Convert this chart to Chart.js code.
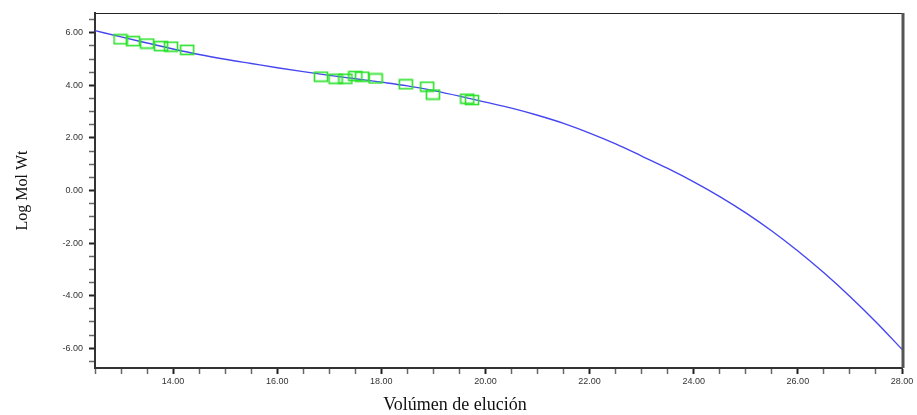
<!DOCTYPE html>
<html>
<head>
<meta charset="utf-8">
<script src="https://cdn.jsdelivr.net/npm/chart.js@4.4.1/dist/chart.umd.min.js"></script>
<style>
  html, body { margin: 0; padding: 0; background: #fff; }
  #wrap { width: 917px; height: 415px; }
</style>
</head>
<body>
<div id="wrap"><canvas id="calibChart" width="917" height="415"></canvas></div>
<script>
// Curva de calibración (volumen de elución vs Log Mol Wt)
const curveVolume = [12.5, 13.0, 13.5, 14.0, 14.5, 15.0, 15.5, 16.0, 16.5, 17.0, 17.5, 18.0,
    18.5, 19.0, 19.5, 20.0, 20.5, 21.0, 21.5, 22.0, 22.5, 23.0, 23.5, 24.0, 24.5, 25.0,
    25.5, 26.0, 26.5, 27.0, 27.5, 28.0];
const curveLogMw = [6.08, 5.84, 5.61, 5.38, 5.17, 4.99, 4.83, 4.67, 4.52, 4.38, 4.25, 4.12,
    3.98, 3.80, 3.59, 3.36, 3.13, 2.86, 2.55, 2.18, 1.77, 1.31, 0.84, 0.33, -0.23, -0.85,
    -1.54, -2.30, -3.13, -4.03, -5.00, -6.04];

// Estándares medidos (cuadrados verdes)
const stdVolume = [12.99, 13.23, 13.50, 13.77, 13.96, 14.27, 16.84, 17.12, 17.31, 17.50,
    17.63, 17.89, 18.47, 18.88, 18.99, 19.65, 19.74];
const stdLogMw = [5.75, 5.68, 5.59, 5.49, 5.47, 5.35, 4.33, 4.25, 4.25, 4.35,
    4.33, 4.26, 4.04, 3.95, 3.65, 3.49, 3.44];

// Marcas de los ejes
const xTickLabels = [14, 16, 18, 20, 22, 24, 26, 28];
const yTickLabels = [-6, -4, -2, 0, 2, 4, 6];
const xMin = 12.5, xMax = 28;
const yMin = -6.75, yMax = 6.75;
const minorStep = 0.5;

const xTitle = 'Volúmen de elución';
const yTitle = 'Log Mol Wt';

function isMajor(v, labels) {
    return labels.some(l => Math.abs(l - v) < 1e-6);
}

// Lista de marcas cada 0.5 dentro del rango
function minorTicks(lo, hi) {
    const out = [];
    const first = Math.ceil(lo / minorStep - 1e-9);
    const last = Math.floor(hi / minorStep + 1e-9);
    for (let k = first; k <= last; k++) out.push({ value: k * minorStep });
    return out;
}

// Marcador rectangular verde
function makeSquare() {
    const c = document.createElement('canvas');
    c.width = 16; c.height = 12;
    const g = c.getContext('2d');
    g.strokeStyle = 'rgb(40,225,40)';
    g.lineWidth = 1.6;
    g.strokeRect(1.5, 1.5, 13, 9);
    return c;
}

// Marco superior y derecho, y título del eje X
const framePlugin = {
    id: 'frame',
    afterDraw(chart) {
        const a = chart.chartArea;
        const ctx = chart.ctx;
        ctx.save();
        ctx.strokeStyle = '#222';
        ctx.lineWidth = 1;
        ctx.beginPath();
        ctx.moveTo(a.left, a.top + 0.5);
        ctx.lineTo(a.right, a.top + 0.5);
        ctx.stroke();
        ctx.strokeStyle = '#555';
        ctx.lineWidth = 3;
        ctx.beginPath();
        ctx.moveTo(a.right + 1, a.top);
        ctx.lineTo(a.right + 1, a.bottom);
        ctx.stroke();

        ctx.fillStyle = '#111';
        ctx.font = '18px "Liberation Serif"';
        ctx.textAlign = 'center';
        ctx.textBaseline = 'middle';
        ctx.fillText(xTitle, 455, 405);
        ctx.restore();
    }
};

const tickFont = { family: 'Liberation Sans', size: 9 };

function tickGrid(labels) {
    return {
        drawOnChartArea: false,
        drawTicks: true,
        tickLength: 6,
        tickColor: ctx => isMajor(ctx.tick.value, labels) ? '#222' : '#666',
        tickWidth: ctx => isMajor(ctx.tick.value, labels) ? 2 : 1.5
    };
}

new Chart(document.getElementById('calibChart').getContext('2d'), {
    type: 'scatter',
    data: {
        datasets: [
            {
                label: 'Estándares',
                data: stdVolume.map((v, i) => ({ x: v, y: stdLogMw[i] })),
                pointStyle: makeSquare(),
                pointRadius: 6
            },
            {
                type: 'line',
                label: 'Calibración',
                data: curveVolume.map((v, i) => ({ x: v, y: curveLogMw[i] })),
                borderColor: 'rgb(70,70,240)',
                borderWidth: 1.4,
                pointRadius: 0,
                cubicInterpolationMode: 'monotone',
                fill: false
            }
        ]
    },
    options: {
        responsive: false,
        animation: false,
        layout: { padding: { left: 0, top: 13, right: 15, bottom: 0 } },
        plugins: {
            legend: { display: false },
            tooltip: { enabled: false }
        },
        scales: {
            x: {
                type: 'linear',
                min: xMin,
                max: xMax,
                afterBuildTicks(scale) { scale.ticks = minorTicks(xMin, xMax); },
                afterFit(scale) { scale.height = 47; },
                border: { display: true, color: '#333', width: 2 },
                grid: tickGrid(xTickLabels),
                ticks: {
                    autoSkip: false,
                    maxRotation: 0,
                    padding: 2,
                    color: '#333',
                    font: tickFont,
                    callback: v => isMajor(v, xTickLabels) ? v.toFixed(2) : ''
                },
                title: { display: false }
            },
            y: {
                type: 'linear',
                min: yMin,
                max: yMax,
                afterBuildTicks(scale) { scale.ticks = minorTicks(yMin, yMax); },
                afterFit(scale) { scale.width = 95; },
                border: { display: true, color: '#333', width: 2 },
                grid: tickGrid(yTickLabels),
                ticks: {
                    autoSkip: false,
                    padding: 6,
                    color: '#333',
                    font: tickFont,
                    callback: v => isMajor(v, yTickLabels) ? v.toFixed(2) : ''
                },
                title: {
                    display: true,
                    text: yTitle,
                    color: '#111',
                    font: { family: 'Liberation Serif', size: 16 },
                    padding: { top: 13, bottom: 0 }
                }
            }
        }
    },
    plugins: [framePlugin]
});
</script>
</body>
</html>
